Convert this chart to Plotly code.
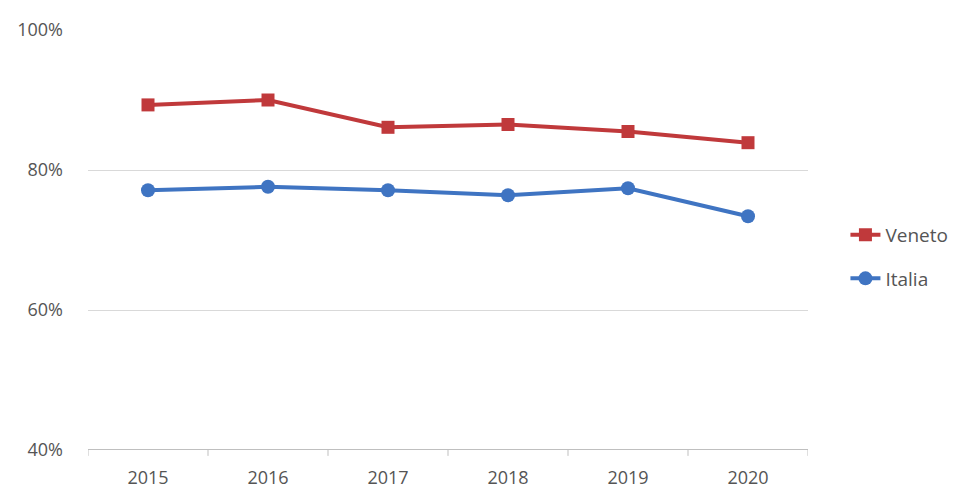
import plotly.graph_objects as go

# Share of values by year, in percent
years = ["2015", "2016", "2017", "2018", "2019", "2020"]
veneto = [89.3, 90.0, 86.1, 86.5, 85.5, 83.9]
italia = [77.1, 77.6, 77.1, 76.4, 77.4, 73.4]
y_ticks = [40, 60, 80, 100]
y_tick_labels = ["40%", "60%", "80%", "100%"]

red = "#C0393B"
blue = "#3F74C2"
text_color = "#555555"

fig = go.Figure()
fig.add_trace(go.Scatter(
    x=years, y=veneto, name="Veneto", mode="lines+markers",
    line=dict(color=red, width=4),
    marker=dict(symbol="square", size=13, color=red),
    legendgroup="veneto",
))
fig.add_trace(go.Scatter(
    x=years, y=italia, name="Italia", mode="lines+markers",
    line=dict(color=blue, width=4),
    marker=dict(symbol="circle", size=14, color=blue),
    legendgroup="italia",
))

fig.update_layout(
    width=965, height=488,
    margin=dict(l=88, r=157, t=30, b=38, autoexpand=False),
    paper_bgcolor="white", plot_bgcolor="white",
    font=dict(family="Open Sans, Liberation Sans, sans-serif", size=18, color=text_color),
    showlegend=True,
    legend=dict(
        x=1.052, y=0.46, xanchor="left", yanchor="middle",
        traceorder="grouped", tracegroupgap=16,
        font=dict(size=19, color=text_color),
        itemwidth=30,
    ),
    xaxis=dict(
        type="category", range=[-0.5, 5.5],
        showgrid=False, zeroline=False,
        showline=False, automargin=False,
        ticks="", ticklabelstandoff=15,
        tickfont=dict(size=18),
    ),
    yaxis=dict(
        range=[40, 100], tickmode="array",
        tickvals=y_ticks, ticktext=y_tick_labels,
        showgrid=True, gridcolor="#D9D9D9", gridwidth=1,
        zeroline=False, showline=False, ticks="", automargin=False,
        ticklabelstandoff=24,
        tickfont=dict(size=18),
    ),
)

# Horizontal baseline with tick marks at category boundaries
fig.add_shape(type="line", xref="paper", yref="y", x0=0, x1=1, y0=40, y1=40,
              line=dict(color="#BFBFBF", width=2))
for i in range(len(years) + 1):
    fig.add_shape(type="line", xref="x", yref="paper",
                  x0=i - 0.5, x1=i - 0.5, y0=0, y1=-0.014,
                  line=dict(color="#BFBFBF", width=1))

fig.write_html("out.html")
